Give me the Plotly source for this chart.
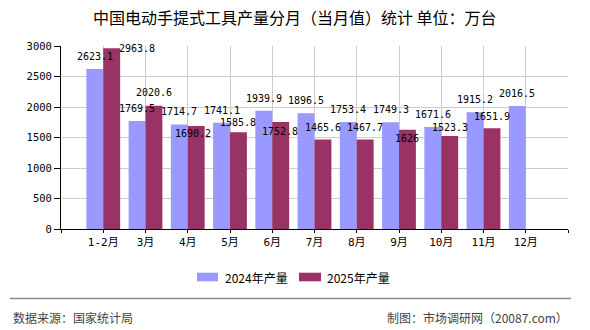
import plotly.graph_objects as go

# ---------------- data ----------------
categories = ["1-2月", "3月", "4月", "5月", "6月", "7月", "8月", "9月", "10月", "11月", "12月"]
values_2024 = [2623.1, 1769.5, 1714.7, 1741.1, 1939.9, 1896.5, 1753.4, 1749.3, 1671.6, 1915.2, 2016.5]
values_2025 = [2963.8, 2020.6, 1690.2, 1585.8, 1752.8, 1465.6, 1467.7, 1626, 1523.3, 1651.9, None]
series_names = ["2024年产量", "2025年产量"]
y_ticks = [0, 500, 1000, 1500, 2000, 2500, 3000]

title_text = "中国电动手提式工具产量分月（当月值）统计 单位：万台"
source_text = "数据来源：国家统计局"
maker_text = "制图：市场调研网（20087.com）"

# ---------------- style ----------------
colors = ["#9999FF", "#993366"]
W, H = 590, 330
ML, MR, MT, MB = 61, 22, 46, 101
PW, PH = W - ML - MR, H - MT - MB
mono = "DejaVu Sans Mono, Noto Sans CJK SC, monospace"
cjk = "Noto Sans CJK SC, sans-serif"

# value-label nudges in pixels (label placement of the original)
label_dy_2024 = [12.5] * 11
label_dx_2025 = [25.5, 0, -3, 0, -1, 0, 0, 0, 0, 0, 0]
label_dy_2025 = [0, 13, -8, 10, -9, 12, 12, -8.5, 9, 12, 0]


def px_x(p):
    return (p - ML) / PW


def px_y(p):
    return (H - MB - p) / PH


xpos = list(range(1, len(categories) + 1))

fig = go.Figure()
for name, vals, col in zip(series_names, [values_2024, values_2025], colors):
    fig.add_trace(go.Bar(x=xpos, y=vals, name=name, marker=dict(color=col, line=dict(width=0)),
                         showlegend=False))

annotations = []
half = 0.2
for i, v in enumerate(values_2024):
    if v is None:
        continue
    annotations.append(dict(x=xpos[i] - half, y=v, xref="x", yref="y", text=f"{v:g}",
                            showarrow=False, xanchor="center", yanchor="middle",
                            yshift=label_dy_2024[i], font=dict(family=mono, size=10, color="#000")))
for i, v in enumerate(values_2025):
    if v is None:
        continue
    annotations.append(dict(x=xpos[i] + half, y=v, xref="x", yref="y", text=f"{v:g}",
                            showarrow=False, xanchor="center", yanchor="middle",
                            xshift=label_dx_2025[i], yshift=label_dy_2025[i],
                            font=dict(family=mono, size=10, color="#000")))

# title
annotations.append(dict(x=px_x(295), y=px_y(17.5), xref="paper", yref="paper", text=title_text,
                        showarrow=False, xanchor="center", yanchor="middle",
                        font=dict(family=cjk, size=16, color="#000")))
# legend
leg_items = [(197, 218, 223), (299, 321, 325)]
shapes = []
for (x0, x1, tx), name, col in zip(leg_items, series_names, colors):
    shapes.append(dict(type="rect", xref="paper", yref="paper", x0=px_x(x0), x1=px_x(x1),
                       y0=px_y(281.3), y1=px_y(272.7), fillcolor=col, line=dict(width=0)))
    annotations.append(dict(x=px_x(tx), y=px_y(277.5), xref="paper", yref="paper", text=name,
                            showarrow=False, xanchor="left", yanchor="middle",
                            font=dict(family=cjk, size=12, color="#000")))
# footer
shapes.append(dict(type="line", xref="paper", yref="paper", x0=px_x(10), x1=px_x(571),
                   y0=px_y(298.5), y1=px_y(298.5), line=dict(color="#888888", width=1.5)))
annotations.append(dict(x=px_x(11), y=px_y(317), xref="paper", yref="paper", text=source_text,
                        showarrow=False, xanchor="left", yanchor="middle",
                        font=dict(family=cjk, size=12, color="#444")))
annotations.append(dict(x=px_x(570), y=px_y(317), xref="paper", yref="paper", text=maker_text,
                        showarrow=False, xanchor="right", yanchor="middle",
                        font=dict(family=cjk, size=12, color="#444")))

fig.update_layout(
    width=W, height=H,
    margin=dict(l=ML, r=MR, t=MT, b=MB, pad=0),
    paper_bgcolor="white", plot_bgcolor="white",
    barmode="group", bargap=0.2, bargroupgap=0,
    showlegend=False,
    xaxis=dict(range=[0, len(categories) + 1], tickmode="array",
               tickvals=list(range(0, len(categories) + 2)),
               ticktext=[""] + categories + [""],
               showgrid=True, gridcolor="#cccccc", gridwidth=1,
               showline=True, linecolor="#000", linewidth=1,
               ticks="outside", ticklen=3, tickcolor="#000",
               zeroline=False, tickfont=dict(family=mono, size=11, color="#000")),
    yaxis=dict(range=[0, 3000], tickmode="array", tickvals=y_ticks,
               showgrid=True, gridcolor="#cccccc", gridwidth=1,
               showline=True, linecolor="#000", linewidth=1,
               ticks="outside", ticklen=6, tickcolor="#000",
               zeroline=False, tickfont=dict(family=mono, size=10.5, color="#000")),
    annotations=annotations,
    shapes=shapes,
)

fig.write_html("out.html")
